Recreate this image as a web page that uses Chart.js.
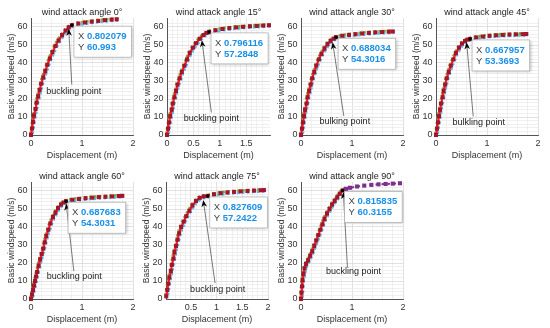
<!DOCTYPE html>
<html>
<head>
<meta charset="utf-8">
<script src="https://cdn.jsdelivr.net/npm/chart.js@4.4.1/dist/chart.umd.min.js"></script>
<style>
  body { margin: 0; background: #fff; width: 550px; height: 328px; overflow: hidden; position: relative; }
  canvas { position: absolute; }
</style>
</head>
<body>
<script>
// Panel titles and notes
const titles = ['wind attack angle 0°', 'wind attack angle 15°', 'wind attack angle 30°', 'wind attack angle 45°',
                'wind attack angle 60°', 'wind attack angle 75°', 'wind attack angle 90°'];
const noteTexts = ['buckling point', 'buckling point', 'bulking point', 'bulkling point',
                   'buckling point', 'buckling point', 'buckling point'];

// Data tips (buckling points)
const tipX = [0.802079, 0.796116, 0.688034, 0.667957, 0.687683, 0.827609, 0.815835];
const tipY = [60.993, 57.2848, 54.3016, 53.3693, 54.3031, 57.2422, 60.3155];

// Tick labels
const yTicks = [0, 10, 20, 30, 40, 50, 60];
const xTicksWhole = [0, 1, 2];
const xTicks15 = [0, 0.5, 1, 1.5];
const xTicks75 = [0.5, 1, 1.5, 2];

// Displacement (m) / basic windspeed (m/s) per wind attack angle
const disp0  = [0, 0.02, 0.04, 0.06, 0.09, 0.11, 0.14, 0.17, 0.20, 0.24, 0.28, 0.32, 0.37, 0.42, 0.48, 0.54, 0.61, 0.68, 0.74, 0.802079, 0.93, 1.06, 1.19, 1.32, 1.45, 1.58, 1.68];
const speed0 = [0, 3.6, 7.2, 10.8, 14.4, 18, 21.5, 25, 28.5, 32, 35.5, 39, 42.5, 46, 49.5, 52.5, 55.5, 58, 59.8, 60.993, 61.9, 62.5, 63, 63.4, 63.8, 64.1, 64.3];

const disp15  = [0, 0.02, 0.04, 0.06, 0.09, 0.11, 0.14, 0.17, 0.20, 0.24, 0.28, 0.33, 0.38, 0.43, 0.49, 0.55, 0.62, 0.69, 0.75, 0.796116, 0.92, 1.05, 1.18, 1.31, 1.44, 1.57, 1.70, 1.82, 1.93];
const speed15 = [0, 3.5, 7, 10.5, 14, 17.5, 21, 24.5, 28, 31.5, 35, 38.5, 42, 45.5, 48.5, 51, 53.5, 55.5, 56.7, 57.2848, 58.2, 58.9, 59.4, 59.8, 60.1, 60.4, 60.6, 60.8, 61];

const disp30  = [0, 0.02, 0.04, 0.06, 0.08, 0.11, 0.13, 0.16, 0.19, 0.22, 0.26, 0.30, 0.35, 0.40, 0.46, 0.52, 0.58, 0.64, 0.688034, 0.81, 0.94, 1.07, 1.20, 1.33, 1.46, 1.59, 1.72, 1.80];
const speed30 = [0, 3.5, 7, 10.5, 14, 17.5, 21, 24.5, 28, 31.5, 35, 38.5, 42, 45, 48, 50.5, 52.3, 53.5, 54.3016, 55.1, 55.6, 56, 56.4, 56.7, 57, 57.2, 57.4, 57.5];

const disp45  = [0, 0.02, 0.04, 0.06, 0.08, 0.10, 0.13, 0.15, 0.18, 0.21, 0.25, 0.29, 0.34, 0.39, 0.45, 0.51, 0.57, 0.62, 0.667957, 0.79, 0.92, 1.05, 1.18, 1.31, 1.44, 1.57, 1.70, 1.77];
const speed45 = [0, 3.5, 7, 10.5, 14, 17.5, 21, 24.5, 28, 31.5, 35, 38.5, 42, 45.5, 48.5, 50.8, 52.2, 53, 53.3693, 54.2, 54.7, 55.1, 55.4, 55.6, 55.8, 55.9, 56, 56.1];

const disp60  = [0, 0.02, 0.04, 0.06, 0.08, 0.10, 0.12, 0.15, 0.18, 0.21, 0.24, 0.27, 0.30, 0.34, 0.38, 0.43, 0.48, 0.53, 0.59, 0.64, 0.687683, 0.81, 0.94, 1.07, 1.20, 1.33, 1.46, 1.59, 1.72, 1.79];
const speed60 = [0, 2.5, 5, 7.5, 10, 12.5, 15, 18.5, 22, 25, 28, 31.5, 35, 38.5, 42, 45.5, 48, 50.5, 52.5, 53.6, 54.3031, 55.1, 55.6, 56, 56.3, 56.6, 56.8, 57, 57.2, 57.3];

const disp75  = [0.02, 0.04, 0.06, 0.08, 0.11, 0.13, 0.16, 0.18, 0.21, 0.24, 0.27, 0.31, 0.36, 0.41, 0.47, 0.53, 0.60, 0.67, 0.75, 0.827609, 0.95, 1.08, 1.21, 1.34, 1.47, 1.60, 1.73, 1.86, 1.92];
const speed75 = [1.5, 5, 8.5, 12, 15.5, 19, 22.5, 26, 29.5, 33, 36.5, 40, 43, 46, 49, 52, 54.5, 56.2, 57, 57.2422, 58.2, 58.8, 59.2, 59.5, 59.8, 60, 60.2, 60.4, 60.5];

const disp90  = [0, 0.01, 0.02, 0.03, 0.05, 0.07, 0.10, 0.14, 0.18, 0.22, 0.26, 0.30, 0.34, 0.38, 0.42, 0.46, 0.51, 0.56, 0.61, 0.66, 0.71, 0.76, 0.815835];
const speed90 = [0, 3.5, 7, 10.5, 14, 17, 19.5, 21.5, 24, 26.5, 29.5, 32.5, 35.5, 38.5, 41.5, 44.5, 47.5, 50, 52.5, 54.5, 56.5, 58.5, 60.3155];
// 90°: post-buckling branch
const dispPost90  = [0.88, 0.96, 1.10, 1.24, 1.38, 1.52, 1.66, 1.80, 1.94];
const speedPost90 = [61.2, 61.8, 62.5, 63, 63.4, 63.7, 63.9, 64.1, 64.3];

const FONT = "'Liberation Sans', Arial, sans-serif";
const TEXT = '#333333';

// Layout of the seven axes (plot area left / top / width), x range and annotation spots
const panels = [
  { left: 31,  top: 18,  w: 102, xMin: 0,     xMax: 2,    minor: 0.2, major: 1,   xTicks: xTicksWhole, disp: disp0,  speed: speed0,
    note: [0.84, 24.2], arrow: [[0.80, 28], [0.74, 59]] },
  { left: 167, top: 18,  w: 103, xMin: 0,     xMax: 1.95, minor: 0.1, major: 0.5, xTicks: xTicks15,    disp: disp15, speed: speed15,
    note: [0.84, 9.3], arrow: [[0.84, 12.5], [0.66, 52.7]] },
  { left: 301, top: 18,  w: 102, xMin: 0,     xMax: 2,    minor: 0.2, major: 1,   xTicks: xTicksWhole, disp: disp30, speed: speed30,
    note: [0.86, 7.4], arrow: [[0.84, 10.5], [0.62, 51.5]] },
  { left: 436, top: 18,  w: 102, xMin: 0,     xMax: 2,    minor: 0.2, major: 1,   xTicks: xTicksWhole, disp: disp45, speed: speed45,
    note: [0.84, 6.9], arrow: [[0.73, 10.3], [0.60, 51.5]] },
  { left: 31,  top: 182, w: 102, xMin: 0,     xMax: 2,    minor: 0.2, major: 1,   xTicks: xTicksWhole, disp: disp60, speed: speed60,
    note: [0.85, 12.4], arrow: [[0.84, 15.5], [0.69, 53]] },
  { left: 166, top: 182, w: 102, xMin: 0.015, xMax: 2,    minor: 0.1, major: 0.5, xTicks: xTicks75,    disp: disp75, speed: speed75,
    note: [1.02, 5.5], arrow: [[0.97, 8.8], [0.74, 55]] },
  { left: 301, top: 182, w: 102, xMin: 0,     xMax: 2,    minor: 0.2, major: 1,   xTicks: xTicksWhole, disp: disp90, speed: speed90,
    note: [1.03, 15.1], arrow: [[0.91, 17.7], [0.83, 59.5]],
    postDisp: dispPost90, postSpeed: speedPost90 }
];

function onStep(v, step) {
  return Math.abs(v / step - Math.round(v / step)) < 1e-6;
}

// Shift a dataset a little so the overlapping dotted series peek out (as in the original)
const shiftPlugin = {
  id: 'shift',
  beforeDatasetDraw(chart, args) {
    const ds = chart.data.datasets[args.index];
    if (ds.shift) {
      chart.ctx.save();
      chart.ctx.translate(ds.shift[0], ds.shift[1]);
    }
  },
  afterDatasetDraw(chart, args) {
    if (chart.data.datasets[args.index].shift) chart.ctx.restore();
  }
};

// Title, note + arrow, and data tip box
const decorPlugin = {
  id: 'decor',
  afterDraw(chart) {
    const o = chart.options.plugins.decor;
    const ctx = chart.ctx;
    const area = chart.chartArea;
    const xs = chart.scales.x, ys = chart.scales.y;
    ctx.save();

    // title
    ctx.font = '9px ' + FONT;
    ctx.fillStyle = '#222';
    ctx.textAlign = 'center';
    ctx.textBaseline = 'middle';
    ctx.fillText(o.title, (area.left + area.right) / 2, area.top - 5);

    // arrow
    const ax0 = xs.getPixelForValue(o.arrow[0][0]), ay0 = ys.getPixelForValue(o.arrow[0][1]);
    const ax1 = xs.getPixelForValue(o.arrow[1][0]), ay1 = ys.getPixelForValue(o.arrow[1][1]);
    const ang = Math.atan2(ay1 - ay0, ax1 - ax0);
    ctx.strokeStyle = '#555';
    ctx.lineWidth = 0.8;
    ctx.beginPath();
    ctx.moveTo(ax0, ay0);
    ctx.lineTo(ax1 - 5 * Math.cos(ang), ay1 - 5 * Math.sin(ang));
    ctx.stroke();
    ctx.fillStyle = '#000';
    ctx.beginPath();
    ctx.moveTo(ax1, ay1);
    ctx.lineTo(ax1 - 7 * Math.cos(ang) + 2.8 * Math.sin(ang), ay1 - 7 * Math.sin(ang) - 2.8 * Math.cos(ang));
    ctx.lineTo(ax1 - 5 * Math.cos(ang), ay1 - 5 * Math.sin(ang));
    ctx.lineTo(ax1 - 7 * Math.cos(ang) - 2.8 * Math.sin(ang), ay1 - 7 * Math.sin(ang) + 2.8 * Math.cos(ang));
    ctx.closePath();
    ctx.fill();

    // note text
    ctx.fillStyle = '#222';
    ctx.font = '9px ' + FONT;
    ctx.fillText(o.note, xs.getPixelForValue(o.notePos[0]), ys.getPixelForValue(o.notePos[1]));

    // data tip
    const px = xs.getPixelForValue(o.tipX), py = ys.getPixelForValue(o.tipY);
    ctx.fillStyle = '#000';
    ctx.beginPath();
    ctx.arc(px, py, 1.7, 0, Math.PI * 2);
    ctx.fill();

    const lab = '9.5px ' + FONT, val = 'bold 9.5px ' + FONT;
    const rows = [['X ', String(o.tipX)], ['Y ', String(o.tipY)]];
    let wMax = 0;
    rows.forEach(r => {
      ctx.font = lab; const w1 = ctx.measureText(r[0]).width;
      ctx.font = val; const w2 = ctx.measureText(r[1]).width;
      wMax = Math.max(wMax, w1 + w2);
    });
    const bx = px + 2, by = py + 1, bw = wMax + 9, bh = 31;
    ctx.shadowColor = 'rgba(0,0,0,0.25)';
    ctx.shadowBlur = 3;
    ctx.shadowOffsetX = 1;
    ctx.shadowOffsetY = 1;
    ctx.fillStyle = '#fff';
    ctx.fillRect(bx, by, bw, bh);
    ctx.shadowColor = 'transparent';
    ctx.strokeStyle = '#b4b4b4';
    ctx.lineWidth = 0.8;
    ctx.strokeRect(bx, by, bw, bh);
    ctx.textAlign = 'left';
    rows.forEach((r, k) => {
      const ty = by + 10 + k * 11;
      ctx.font = lab; ctx.fillStyle = '#404040';
      ctx.fillText(r[0], bx + 4, ty);
      const w1 = ctx.measureText(r[0]).width;
      ctx.font = val; ctx.fillStyle = '#1a8fe8';
      ctx.fillText(r[1], bx + 4 + w1, ty);
    });
    ctx.restore();
  }
};

function drawPanel(p, i) {
  const canvas = document.createElement('canvas');
  canvas.width = p.w + 31 + 8;
  canvas.height = 18 + 117 + 28;
  canvas.style.left = (p.left - 31) + 'px';
  canvas.style.top = (p.top - 18) + 'px';
  document.body.appendChild(canvas);

  const main = p.disp.map((x, k) => ({ x: x, y: p.speed[k] }));
  const k = p.disp.indexOf(tipX[i]);
  const loaded = main.slice(0, k + 1);
  const post = p.postDisp ? p.postDisp.map((x, j) => ({ x: x, y: p.postSpeed[j] })) : [];

  const datasets = [
    { data: main, showLine: false, pointStyle: 'rect', pointRadius: 2.9, pointBorderWidth: 0,
      pointBackgroundColor: '#A2142F', clip: 4 },
    { data: loaded, borderColor: '#FF1a1a', borderWidth: 2.2, pointRadius: 0, clip: 4 },
    { data: p.postDisp ? main.concat(post.slice(0, 2)) : main, borderColor: '#77AC30', borderWidth: 2.6,
      borderDash: [2.5, 2.5], pointRadius: 0, shift: [-0.9, -0.8], clip: 4 },
    { data: main, borderColor: '#4DBEEE', borderWidth: 2.6, borderDash: [2.5, 2.5], borderDashOffset: 2.5,
      pointRadius: 0, shift: [1.3, 1.2], clip: 4 }
  ];
  if (post.length) {
    datasets.unshift({ data: post, borderColor: '#7E2F8E', borderWidth: 2, borderDash: [2.5, 3.5],
      pointStyle: 'rect', pointRadius: 2.9, pointBorderWidth: 0, pointBackgroundColor: '#7E2F8E', clip: 4 });
  }

  new Chart(canvas, {
    type: 'line',
    data: { datasets: datasets },
    plugins: [shiftPlugin, decorPlugin],
    options: {
      responsive: false,
      animation: false,
      layout: { padding: { top: 18, right: 8, left: 0, bottom: 0 } },
      plugins: {
        legend: { display: false },
        tooltip: { enabled: false },
        decor: { title: titles[i], note: noteTexts[i], notePos: p.note, arrow: p.arrow, tipX: tipX[i], tipY: tipY[i] }
      },
      scales: {
        x: {
          type: 'linear',
          min: p.xMin, max: p.xMax,
          afterFit(scale) { scale.height = 28; },
          border: { display: true, color: '#555', width: 1 },
          grid: {
            drawTicks: false,
            lineWidth: 0.8,
            color(c) {
              const v = c.tick.value;
              if (onStep(v, p.major)) return '#d9d9d9';
              if (onStep(v, p.minor)) return '#ececec';
              return 'rgba(0,0,0,0)';
            }
          },
          ticks: {
            stepSize: p.minor, autoSkip: false, maxRotation: 0, padding: 3.5,
            color: TEXT, font: { family: FONT, size: 9 },
            callback(v) { return p.xTicks.some(t => Math.abs(t - v) < 1e-6) ? String(v) : ''; }
          },
          title: { display: true, text: 'Displacement (m)', color: TEXT, font: { family: FONT, size: 9 },
                   padding: { top: 0, bottom: 2.5 } }
        },
        y: {
          type: 'linear',
          min: 0, max: 65,
          afterFit(scale) { scale.width = 31; },
          border: { display: true, color: '#555', width: 1 },
          grid: {
            drawTicks: false,
            lineWidth: 0.8,
            color(c) {
              const v = c.tick.value;
              if (onStep(v, 10)) return '#d9d9d9';
              if (onStep(v, 2) && v < 65) return '#ececec';
              return 'rgba(0,0,0,0)';
            }
          },
          ticks: {
            stepSize: 2, autoSkip: false, padding: 3.5,
            color: TEXT, font: { family: FONT, size: 9 },
            callback(v) { return yTicks.includes(v) ? String(v) : ''; }
          },
          title: { display: true, text: 'Basic windspeed (m/s)', color: TEXT, font: { family: FONT, size: 8.5 },
                   padding: { top: 7, bottom: 0 } }
        }
      }
    }
  });
}

panels.forEach(drawPanel);
</script>
</body>
</html>
